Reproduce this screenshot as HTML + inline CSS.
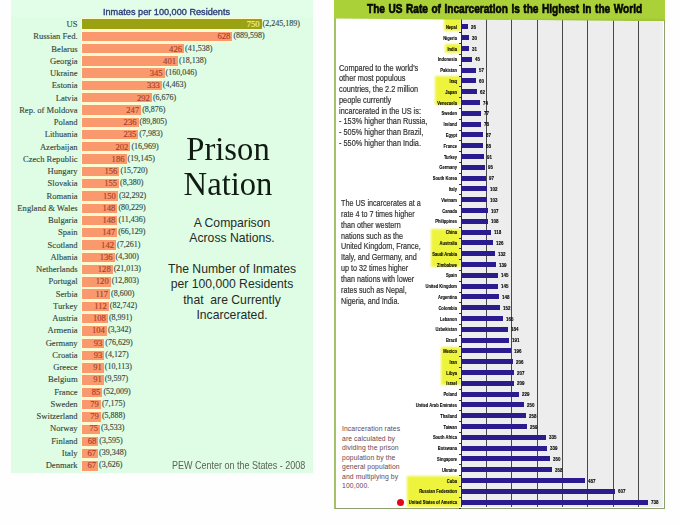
<!DOCTYPE html><html><head><meta charset="utf-8"><style>
*{margin:0;padding:0;box-sizing:border-box}
html,body{width:680px;height:526px;overflow:hidden;background:#fdfefd;position:relative}
.a{position:absolute;white-space:nowrap}
.lp{left:11px;top:0;width:302px;height:473px;background:#dffde5}
.lab{-webkit-text-stroke:0.12px #34463a;font-family:"Liberation Serif",serif;font-size:8.6px;color:#34463a;text-align:right;width:80px;line-height:12px}
.num{-webkit-text-stroke:0.15px currentColor;font-family:"Liberation Serif",serif;font-size:8.6px;color:#a8402c;line-height:12px;text-align:right}
.par{-webkit-text-stroke:0.15px currentColor;font-family:"Liberation Serif",serif;font-size:8px;color:#3c4a42;line-height:12px}
.rl{-webkit-text-stroke:0.12px #000;font-family:"Liberation Sans",sans-serif;font-weight:bold;font-size:6px;color:#000;text-align:right;line-height:8px;transform-origin:100% 50%;transform:scaleX(0.68)}
.rv{-webkit-text-stroke:0.12px #000;font-family:"Liberation Sans",sans-serif;font-weight:bold;font-size:5.6px;color:#000;line-height:8px;transform-origin:0 50%;transform:scaleX(0.8)}
.tx{-webkit-text-stroke:0.2px #333;font-family:"Liberation Sans",sans-serif;color:#333;line-height:10.8px;font-size:9px;transform-origin:0 0;transform:scaleX(0.815)}
</style></head><body>

<div class="a lp"></div>
<div class="a" style="left:11px;top:0;width:302px;height:17px;background:#e2fde8"></div>
<div class="a" style="left:103.2px;top:7.4px;font-family:'Liberation Sans',sans-serif;font-weight:normal;-webkit-text-stroke:0.35px #2c3a78;font-size:9.2px;color:#2c3a78;transform-origin:0 0;transform:scaleX(0.995)">Inmates per 100,000 Residents</div>
<div class="a" style="left:81.0px;top:17.70px;width:180.6px;height:12.6px;background:#fffad0"></div>
<div class="a" style="left:82.0px;top:19.30px;width:179.6px;height:9.4px;background:#9aa214"></div>
<div class="a lab" style="left:-2.4000000000000057px;top:18.00px">US</div>
<div class="a num" style="left:219.6px;top:18.00px;width:40px;color:#f6eeb0">750</div>
<div class="a par" style="left:262.6px;top:18.00px">(2,245,189)</div>
<div class="a" style="left:81.0px;top:29.98px;width:151.4px;height:12.6px;background:#fffad0"></div>
<div class="a" style="left:82.0px;top:31.58px;width:150.4px;height:9.4px;background:#fa996e"></div>
<div class="a lab" style="left:-2.4000000000000057px;top:30.25px">Russian Fed.</div>
<div class="a num" style="left:190.4px;top:30.25px;width:40px;color:#a8402c">628</div>
<div class="a par" style="left:233.4px;top:30.25px">(889,598)</div>
<div class="a" style="left:81.0px;top:42.26px;width:103.0px;height:12.6px;background:#fffad0"></div>
<div class="a" style="left:82.0px;top:43.86px;width:102.0px;height:9.4px;background:#fa996e"></div>
<div class="a lab" style="left:-2.4000000000000057px;top:42.50px">Belarus</div>
<div class="a num" style="left:142.0px;top:42.50px;width:40px;color:#a8402c">426</div>
<div class="a par" style="left:185.0px;top:42.50px">(41,538)</div>
<div class="a" style="left:81.0px;top:54.54px;width:97.0px;height:12.6px;background:#fffad0"></div>
<div class="a" style="left:82.0px;top:56.14px;width:96.0px;height:9.4px;background:#fa996e"></div>
<div class="a lab" style="left:-2.4000000000000057px;top:54.75px">Georgia</div>
<div class="a num" style="left:136.0px;top:54.75px;width:40px;color:#a8402c">401</div>
<div class="a par" style="left:179.0px;top:54.75px">(18,138)</div>
<div class="a" style="left:81.0px;top:66.82px;width:83.6px;height:12.6px;background:#fffad0"></div>
<div class="a" style="left:82.0px;top:68.42px;width:82.6px;height:9.4px;background:#fa996e"></div>
<div class="a lab" style="left:-2.4000000000000057px;top:67.00px">Ukraine</div>
<div class="a num" style="left:122.6px;top:67.00px;width:40px;color:#a8402c">345</div>
<div class="a par" style="left:165.6px;top:67.00px">(160,046)</div>
<div class="a" style="left:81.0px;top:79.10px;width:80.8px;height:12.6px;background:#fffad0"></div>
<div class="a" style="left:82.0px;top:80.70px;width:79.8px;height:9.4px;background:#fa996e"></div>
<div class="a lab" style="left:-2.4000000000000057px;top:79.25px">Estonia</div>
<div class="a num" style="left:119.8px;top:79.25px;width:40px;color:#a8402c">333</div>
<div class="a par" style="left:162.8px;top:79.25px">(4,463)</div>
<div class="a" style="left:81.0px;top:91.38px;width:70.9px;height:12.6px;background:#fffad0"></div>
<div class="a" style="left:82.0px;top:92.98px;width:69.9px;height:9.4px;background:#fa996e"></div>
<div class="a lab" style="left:-2.4000000000000057px;top:91.50px">Latvia</div>
<div class="a num" style="left:109.9px;top:91.50px;width:40px;color:#a8402c">292</div>
<div class="a par" style="left:152.9px;top:91.50px">(6,676)</div>
<div class="a" style="left:81.0px;top:103.66px;width:60.2px;height:12.6px;background:#fffad0"></div>
<div class="a" style="left:82.0px;top:105.26px;width:59.2px;height:9.4px;background:#fa996e"></div>
<div class="a lab" style="left:-2.4000000000000057px;top:103.75px">Rep. of Moldova</div>
<div class="a num" style="left:99.2px;top:103.75px;width:40px;color:#a8402c">247</div>
<div class="a par" style="left:142.2px;top:103.75px">(8,876)</div>
<div class="a" style="left:81.0px;top:115.94px;width:57.5px;height:12.6px;background:#fffad0"></div>
<div class="a" style="left:82.0px;top:117.54px;width:56.5px;height:9.4px;background:#fa996e"></div>
<div class="a lab" style="left:-2.4000000000000057px;top:116.00px">Poland</div>
<div class="a num" style="left:96.5px;top:116.00px;width:40px;color:#a8402c">236</div>
<div class="a par" style="left:139.5px;top:116.00px">(89,805)</div>
<div class="a" style="left:81.0px;top:128.22px;width:57.3px;height:12.6px;background:#fffad0"></div>
<div class="a" style="left:82.0px;top:129.82px;width:56.3px;height:9.4px;background:#fa996e"></div>
<div class="a lab" style="left:-2.4000000000000057px;top:128.25px">Lithuania</div>
<div class="a num" style="left:96.3px;top:128.25px;width:40px;color:#a8402c">235</div>
<div class="a par" style="left:139.3px;top:128.25px">(7,983)</div>
<div class="a" style="left:81.0px;top:140.50px;width:49.4px;height:12.6px;background:#fffad0"></div>
<div class="a" style="left:82.0px;top:142.10px;width:48.4px;height:9.4px;background:#fa996e"></div>
<div class="a lab" style="left:-2.4000000000000057px;top:140.50px">Azerbaijan</div>
<div class="a num" style="left:88.4px;top:140.50px;width:40px;color:#a8402c">202</div>
<div class="a par" style="left:131.4px;top:140.50px">(16,969)</div>
<div class="a" style="left:81.0px;top:152.78px;width:45.5px;height:12.6px;background:#fffad0"></div>
<div class="a" style="left:82.0px;top:154.38px;width:44.5px;height:9.4px;background:#fa996e"></div>
<div class="a lab" style="left:-2.4000000000000057px;top:152.75px">Czech Republic</div>
<div class="a num" style="left:84.5px;top:152.75px;width:40px;color:#a8402c">186</div>
<div class="a par" style="left:127.5px;top:152.75px">(19,145)</div>
<div class="a" style="left:81.0px;top:165.06px;width:38.4px;height:12.6px;background:#fffad0"></div>
<div class="a" style="left:82.0px;top:166.66px;width:37.4px;height:9.4px;background:#fa996e"></div>
<div class="a lab" style="left:-2.4000000000000057px;top:165.00px">Hungary</div>
<div class="a num" style="left:77.4px;top:165.00px;width:40px;color:#a8402c">156</div>
<div class="a par" style="left:120.4px;top:165.00px">(15,720)</div>
<div class="a" style="left:81.0px;top:177.34px;width:38.1px;height:12.6px;background:#fffad0"></div>
<div class="a" style="left:82.0px;top:178.94px;width:37.1px;height:9.4px;background:#fa996e"></div>
<div class="a lab" style="left:-2.4000000000000057px;top:177.25px">Slovakia</div>
<div class="a num" style="left:77.1px;top:177.25px;width:40px;color:#a8402c">155</div>
<div class="a par" style="left:120.1px;top:177.25px">(8,380)</div>
<div class="a" style="left:81.0px;top:189.62px;width:36.9px;height:12.6px;background:#fffad0"></div>
<div class="a" style="left:82.0px;top:191.22px;width:35.9px;height:9.4px;background:#fa996e"></div>
<div class="a lab" style="left:-2.4000000000000057px;top:189.50px">Romania</div>
<div class="a num" style="left:75.9px;top:189.50px;width:40px;color:#a8402c">150</div>
<div class="a par" style="left:118.9px;top:189.50px">(32,292)</div>
<div class="a" style="left:81.0px;top:201.90px;width:36.4px;height:12.6px;background:#fffad0"></div>
<div class="a" style="left:82.0px;top:203.50px;width:35.4px;height:9.4px;background:#fa996e"></div>
<div class="a lab" style="left:-2.4000000000000057px;top:201.75px">England &amp; Wales</div>
<div class="a num" style="left:75.4px;top:201.75px;width:40px;color:#a8402c">148</div>
<div class="a par" style="left:118.4px;top:201.75px">(80,229)</div>
<div class="a" style="left:81.0px;top:214.18px;width:36.4px;height:12.6px;background:#fffad0"></div>
<div class="a" style="left:82.0px;top:215.78px;width:35.4px;height:9.4px;background:#fa996e"></div>
<div class="a lab" style="left:-2.4000000000000057px;top:214.00px">Bulgaria</div>
<div class="a num" style="left:75.4px;top:214.00px;width:40px;color:#a8402c">148</div>
<div class="a par" style="left:118.4px;top:214.00px">(11,436)</div>
<div class="a" style="left:81.0px;top:226.46px;width:36.2px;height:12.6px;background:#fffad0"></div>
<div class="a" style="left:82.0px;top:228.06px;width:35.2px;height:9.4px;background:#fa996e"></div>
<div class="a lab" style="left:-2.4000000000000057px;top:226.25px">Spain</div>
<div class="a num" style="left:75.2px;top:226.25px;width:40px;color:#a8402c">147</div>
<div class="a par" style="left:118.2px;top:226.25px">(66,129)</div>
<div class="a" style="left:81.0px;top:238.74px;width:35.0px;height:12.6px;background:#fffad0"></div>
<div class="a" style="left:82.0px;top:240.34px;width:34.0px;height:9.4px;background:#fa996e"></div>
<div class="a lab" style="left:-2.4000000000000057px;top:238.50px">Scotland</div>
<div class="a num" style="left:74.0px;top:238.50px;width:40px;color:#a8402c">142</div>
<div class="a par" style="left:117.0px;top:238.50px">(7,261)</div>
<div class="a" style="left:81.0px;top:251.02px;width:33.6px;height:12.6px;background:#fffad0"></div>
<div class="a" style="left:82.0px;top:252.62px;width:32.6px;height:9.4px;background:#fa996e"></div>
<div class="a lab" style="left:-2.4000000000000057px;top:250.75px">Albania</div>
<div class="a num" style="left:72.6px;top:250.75px;width:40px;color:#a8402c">136</div>
<div class="a par" style="left:115.6px;top:250.75px">(4,300)</div>
<div class="a" style="left:81.0px;top:263.30px;width:31.7px;height:12.6px;background:#fffad0"></div>
<div class="a" style="left:82.0px;top:264.90px;width:30.7px;height:9.4px;background:#fa996e"></div>
<div class="a lab" style="left:-2.4000000000000057px;top:263.00px">Netherlands</div>
<div class="a num" style="left:70.7px;top:263.00px;width:40px;color:#a8402c">128</div>
<div class="a par" style="left:113.7px;top:263.00px">(21,013)</div>
<div class="a" style="left:81.0px;top:275.58px;width:29.7px;height:12.6px;background:#fffad0"></div>
<div class="a" style="left:82.0px;top:277.18px;width:28.7px;height:9.4px;background:#fa996e"></div>
<div class="a lab" style="left:-2.4000000000000057px;top:275.25px">Portugal</div>
<div class="a num" style="left:68.7px;top:275.25px;width:40px;color:#a8402c">120</div>
<div class="a par" style="left:111.7px;top:275.25px">(12,803)</div>
<div class="a" style="left:81.0px;top:287.86px;width:29.0px;height:12.6px;background:#fffad0"></div>
<div class="a" style="left:82.0px;top:289.46px;width:28.0px;height:9.4px;background:#fa996e"></div>
<div class="a lab" style="left:-2.4000000000000057px;top:287.50px">Serbia</div>
<div class="a num" style="left:68.0px;top:287.50px;width:40px;color:#a8402c">117</div>
<div class="a par" style="left:111.0px;top:287.50px">(8,600)</div>
<div class="a" style="left:81.0px;top:300.14px;width:27.8px;height:12.6px;background:#fffad0"></div>
<div class="a" style="left:82.0px;top:301.74px;width:26.8px;height:9.4px;background:#fa996e"></div>
<div class="a lab" style="left:-2.4000000000000057px;top:299.75px">Turkey</div>
<div class="a num" style="left:66.8px;top:299.75px;width:40px;color:#a8402c">112</div>
<div class="a par" style="left:109.8px;top:299.75px">(82,742)</div>
<div class="a" style="left:81.0px;top:312.42px;width:26.9px;height:12.6px;background:#fffad0"></div>
<div class="a" style="left:82.0px;top:314.02px;width:25.9px;height:9.4px;background:#fa996e"></div>
<div class="a lab" style="left:-2.4000000000000057px;top:312.00px">Austria</div>
<div class="a num" style="left:65.9px;top:312.00px;width:40px;color:#a8402c">108</div>
<div class="a par" style="left:108.9px;top:312.00px">(8,991)</div>
<div class="a" style="left:81.0px;top:324.70px;width:25.9px;height:12.6px;background:#fffad0"></div>
<div class="a" style="left:82.0px;top:326.30px;width:24.9px;height:9.4px;background:#fa996e"></div>
<div class="a lab" style="left:-2.4000000000000057px;top:324.25px">Armenia</div>
<div class="a num" style="left:64.9px;top:324.25px;width:40px;color:#a8402c">104</div>
<div class="a par" style="left:107.9px;top:324.25px">(3,342)</div>
<div class="a" style="left:81.0px;top:336.98px;width:23.3px;height:12.6px;background:#fffad0"></div>
<div class="a" style="left:82.0px;top:338.58px;width:22.3px;height:9.4px;background:#fa996e"></div>
<div class="a lab" style="left:-2.4000000000000057px;top:336.50px">Germany</div>
<div class="a num" style="left:62.3px;top:336.50px;width:40px;color:#a8402c">93</div>
<div class="a par" style="left:105.3px;top:336.50px">(76,629)</div>
<div class="a" style="left:81.0px;top:349.26px;width:23.3px;height:12.6px;background:#fffad0"></div>
<div class="a" style="left:82.0px;top:350.86px;width:22.3px;height:9.4px;background:#fa996e"></div>
<div class="a lab" style="left:-2.4000000000000057px;top:348.75px">Croatia</div>
<div class="a num" style="left:62.3px;top:348.75px;width:40px;color:#a8402c">93</div>
<div class="a par" style="left:105.3px;top:348.75px">(4,127)</div>
<div class="a" style="left:81.0px;top:361.54px;width:22.8px;height:12.6px;background:#fffad0"></div>
<div class="a" style="left:82.0px;top:363.14px;width:21.8px;height:9.4px;background:#fa996e"></div>
<div class="a lab" style="left:-2.4000000000000057px;top:361.00px">Greece</div>
<div class="a num" style="left:61.8px;top:361.00px;width:40px;color:#a8402c">91</div>
<div class="a par" style="left:104.8px;top:361.00px">(10,113)</div>
<div class="a" style="left:81.0px;top:373.82px;width:22.8px;height:12.6px;background:#fffad0"></div>
<div class="a" style="left:82.0px;top:375.42px;width:21.8px;height:9.4px;background:#fa996e"></div>
<div class="a lab" style="left:-2.4000000000000057px;top:373.25px">Belgium</div>
<div class="a num" style="left:61.8px;top:373.25px;width:40px;color:#a8402c">91</div>
<div class="a par" style="left:104.8px;top:373.25px">(9,597)</div>
<div class="a" style="left:81.0px;top:386.10px;width:21.4px;height:12.6px;background:#fffad0"></div>
<div class="a" style="left:82.0px;top:387.70px;width:20.4px;height:9.4px;background:#fa996e"></div>
<div class="a lab" style="left:-2.4000000000000057px;top:385.50px">France</div>
<div class="a num" style="left:60.4px;top:385.50px;width:40px;color:#a8402c">85</div>
<div class="a par" style="left:103.4px;top:385.50px">(52,009)</div>
<div class="a" style="left:81.0px;top:398.38px;width:19.9px;height:12.6px;background:#fffad0"></div>
<div class="a" style="left:82.0px;top:399.98px;width:18.9px;height:9.4px;background:#fa996e"></div>
<div class="a lab" style="left:-2.4000000000000057px;top:397.75px">Sweden</div>
<div class="a num" style="left:58.9px;top:397.75px;width:40px;color:#a8402c">79</div>
<div class="a par" style="left:101.9px;top:397.75px">(7,175)</div>
<div class="a" style="left:81.0px;top:410.66px;width:19.9px;height:12.6px;background:#fffad0"></div>
<div class="a" style="left:82.0px;top:412.26px;width:18.9px;height:9.4px;background:#fa996e"></div>
<div class="a lab" style="left:-2.4000000000000057px;top:410.00px">Switzerland</div>
<div class="a num" style="left:58.9px;top:410.00px;width:40px;color:#a8402c">79</div>
<div class="a par" style="left:101.9px;top:410.00px">(5,888)</div>
<div class="a" style="left:81.0px;top:422.94px;width:19.0px;height:12.6px;background:#fffad0"></div>
<div class="a" style="left:82.0px;top:424.54px;width:18.0px;height:9.4px;background:#fa996e"></div>
<div class="a lab" style="left:-2.4000000000000057px;top:422.25px">Norway</div>
<div class="a num" style="left:58.0px;top:422.25px;width:40px;color:#a8402c">75</div>
<div class="a par" style="left:101.0px;top:422.25px">(3,533)</div>
<div class="a" style="left:81.0px;top:435.22px;width:17.3px;height:12.6px;background:#fffad0"></div>
<div class="a" style="left:82.0px;top:436.82px;width:16.3px;height:9.4px;background:#fa996e"></div>
<div class="a lab" style="left:-2.4000000000000057px;top:434.50px">Finland</div>
<div class="a num" style="left:56.3px;top:434.50px;width:40px;color:#a8402c">68</div>
<div class="a par" style="left:99.3px;top:434.50px">(3,595)</div>
<div class="a" style="left:81.0px;top:447.50px;width:17.0px;height:12.6px;background:#fffad0"></div>
<div class="a" style="left:82.0px;top:449.10px;width:16.0px;height:9.4px;background:#fa996e"></div>
<div class="a lab" style="left:-2.4000000000000057px;top:446.75px">Italy</div>
<div class="a num" style="left:56.0px;top:446.75px;width:40px;color:#a8402c">67</div>
<div class="a par" style="left:99.0px;top:446.75px">(39,348)</div>
<div class="a" style="left:81.0px;top:459.78px;width:17.0px;height:12.6px;background:#fffad0"></div>
<div class="a" style="left:82.0px;top:461.38px;width:16.0px;height:9.4px;background:#fa996e"></div>
<div class="a lab" style="left:-2.4000000000000057px;top:459.00px">Denmark</div>
<div class="a num" style="left:56.0px;top:459.00px;width:40px;color:#a8402c">67</div>
<div class="a par" style="left:99.0px;top:459.00px">(3,626)</div>
<div class="a" style="left:168px;top:131.8px;width:120px;text-align:center;font-family:'Liberation Serif',serif;font-size:34px;line-height:34.8px;color:#121a14;transform:scaleX(0.96)">Prison<br>Nation</div>
<div class="a" style="left:152px;top:215.5px;width:160px;text-align:center;font-family:'Liberation Sans',sans-serif;font-size:12.2px;line-height:15.4px;color:#262a26">A Comparison<br>Across Nations.<br><br>The Number of Inmates<br>per 100,000 Residents<br>that&nbsp; are Currently<br>Incarcerated.</div>
<div class="a" style="left:172.3px;top:458.7px;font-family:'Liberation Sans',sans-serif;font-size:10.6px;color:#5a625a;transform-origin:0 0;transform:scaleX(0.848)">PEW Center on the States - 2008</div>
<div class="a" style="left:334px;top:0;width:331px;height:508.8px;background:#fefffe;border-left:2.5px solid #a6c268;border-bottom:1.8px solid #8fa070;border-right:1.8px solid #8fa070"></div>
<div class="a" style="left:444px;top:18.4px;width:17.0px;height:13.0px;background:#eef43c;filter:blur(0.8px)"></div>
<div class="a" style="left:445px;top:43.9px;width:16.0px;height:9.1px;background:#eef43c;filter:blur(0.8px)"></div>
<div class="a" style="left:435px;top:76.4px;width:26.0px;height:28.6px;background:#eef43c;filter:blur(0.8px)"></div>
<div class="a" style="left:431px;top:229.1px;width:30.0px;height:37.9px;background:#eef43c;filter:blur(0.8px)"></div>
<div class="a" style="left:441px;top:346.9px;width:20.0px;height:38.4px;background:#eef43c;filter:blur(0.8px)"></div>
<div class="a" style="left:406.5px;top:476.2px;width:54.5px;height:31.0px;background:#eef43c;filter:blur(0.8px)"></div>
<div class="a" style="left:461px;top:19px;width:202.20000000000005px;height:488.2px;background:linear-gradient(to right,#ededee calc(100% - 4px),#f2f3f4 100%)"></div>
<div class="a" style="left:485.8px;top:19px;width:1.1px;height:488.2px;background:#484848"></div>
<div class="a" style="left:511.1px;top:19px;width:1.1px;height:488.2px;background:#484848"></div>
<div class="a" style="left:536.5px;top:19px;width:1.1px;height:488.2px;background:#484848"></div>
<div class="a" style="left:561.8px;top:19px;width:1.1px;height:488.2px;background:#484848"></div>
<div class="a" style="left:587.2px;top:19px;width:1.1px;height:488.2px;background:#484848"></div>
<div class="a" style="left:612.6px;top:19px;width:1.1px;height:488.2px;background:#484848"></div>
<div class="a" style="left:637.9px;top:19px;width:1.1px;height:488.2px;background:#484848"></div>
<div class="a" style="left:460.5px;top:19px;width:1px;height:488.2px;background:#2a2a2a"></div>
<div class="a" style="left:461px;top:24.40px;width:6.6px;height:5.0px;background:#2a1b8e"></div>
<div class="a rl" style="left:357px;top:22.90px;width:100px">Nepal</div>
<div class="a rv" style="left:470.6px;top:22.90px">26</div>
<div class="a" style="left:459px;top:32.30px;width:2px;height:1px;background:#333"></div>
<div class="a" style="left:461px;top:35.20px;width:7.6px;height:5.0px;background:#2a1b8e"></div>
<div class="a rl" style="left:357px;top:33.70px;width:100px">Nigeria</div>
<div class="a rv" style="left:471.6px;top:33.70px">30</div>
<div class="a" style="left:459px;top:43.10px;width:2px;height:1px;background:#333"></div>
<div class="a" style="left:461px;top:46.00px;width:7.9px;height:5.0px;background:#2a1b8e"></div>
<div class="a rl" style="left:357px;top:44.50px;width:100px">India</div>
<div class="a rv" style="left:471.9px;top:44.50px">31</div>
<div class="a" style="left:459px;top:53.90px;width:2px;height:1px;background:#333"></div>
<div class="a" style="left:461px;top:56.80px;width:11.4px;height:5.0px;background:#2a1b8e"></div>
<div class="a rl" style="left:357px;top:55.30px;width:100px">Indonesia</div>
<div class="a rv" style="left:475.4px;top:55.30px">45</div>
<div class="a" style="left:459px;top:64.70px;width:2px;height:1px;background:#333"></div>
<div class="a" style="left:461px;top:67.60px;width:14.5px;height:5.0px;background:#2a1b8e"></div>
<div class="a rl" style="left:357px;top:66.10px;width:100px">Pakistan</div>
<div class="a rv" style="left:478.5px;top:66.10px">57</div>
<div class="a" style="left:459px;top:75.50px;width:2px;height:1px;background:#333"></div>
<div class="a" style="left:461px;top:78.40px;width:15.2px;height:5.0px;background:#2a1b8e"></div>
<div class="a rl" style="left:357px;top:76.90px;width:100px">Iraq</div>
<div class="a rv" style="left:479.2px;top:76.90px">60</div>
<div class="a" style="left:459px;top:86.30px;width:2px;height:1px;background:#333"></div>
<div class="a" style="left:461px;top:89.20px;width:15.7px;height:5.0px;background:#2a1b8e"></div>
<div class="a rl" style="left:357px;top:87.70px;width:100px">Japan</div>
<div class="a rv" style="left:479.7px;top:87.70px">62</div>
<div class="a" style="left:459px;top:97.10px;width:2px;height:1px;background:#333"></div>
<div class="a" style="left:461px;top:100.00px;width:18.8px;height:5.0px;background:#2a1b8e"></div>
<div class="a rl" style="left:357px;top:98.50px;width:100px">Venezuela</div>
<div class="a rv" style="left:482.8px;top:98.50px">74</div>
<div class="a" style="left:459px;top:107.90px;width:2px;height:1px;background:#333"></div>
<div class="a" style="left:461px;top:110.80px;width:19.5px;height:5.0px;background:#2a1b8e"></div>
<div class="a rl" style="left:357px;top:109.30px;width:100px">Sweden</div>
<div class="a rv" style="left:483.5px;top:109.30px">77</div>
<div class="a" style="left:459px;top:118.70px;width:2px;height:1px;background:#333"></div>
<div class="a" style="left:461px;top:121.60px;width:19.8px;height:5.0px;background:#2a1b8e"></div>
<div class="a rl" style="left:357px;top:120.10px;width:100px">Ireland</div>
<div class="a rv" style="left:483.8px;top:120.10px">78</div>
<div class="a" style="left:459px;top:129.50px;width:2px;height:1px;background:#333"></div>
<div class="a" style="left:461px;top:132.40px;width:22.1px;height:5.0px;background:#2a1b8e"></div>
<div class="a rl" style="left:357px;top:130.90px;width:100px">Egypt</div>
<div class="a rv" style="left:486.1px;top:130.90px">87</div>
<div class="a" style="left:459px;top:140.30px;width:2px;height:1px;background:#333"></div>
<div class="a" style="left:461px;top:143.20px;width:22.3px;height:5.0px;background:#2a1b8e"></div>
<div class="a rl" style="left:357px;top:141.70px;width:100px">France</div>
<div class="a rv" style="left:486.3px;top:141.70px">88</div>
<div class="a" style="left:459px;top:151.10px;width:2px;height:1px;background:#333"></div>
<div class="a" style="left:461px;top:154.00px;width:23.1px;height:5.0px;background:#2a1b8e"></div>
<div class="a rl" style="left:357px;top:152.50px;width:100px">Turkey</div>
<div class="a rv" style="left:487.1px;top:152.50px">91</div>
<div class="a" style="left:459px;top:161.90px;width:2px;height:1px;background:#333"></div>
<div class="a" style="left:461px;top:164.80px;width:24.1px;height:5.0px;background:#2a1b8e"></div>
<div class="a rl" style="left:357px;top:163.30px;width:100px">Germany</div>
<div class="a rv" style="left:488.1px;top:163.30px">95</div>
<div class="a" style="left:459px;top:172.70px;width:2px;height:1px;background:#333"></div>
<div class="a" style="left:461px;top:175.60px;width:24.6px;height:5.0px;background:#2a1b8e"></div>
<div class="a rl" style="left:357px;top:174.10px;width:100px">South Korea</div>
<div class="a rv" style="left:488.6px;top:174.10px">97</div>
<div class="a" style="left:459px;top:183.50px;width:2px;height:1px;background:#333"></div>
<div class="a" style="left:461px;top:186.40px;width:25.9px;height:5.0px;background:#2a1b8e"></div>
<div class="a rl" style="left:357px;top:184.90px;width:100px">Italy</div>
<div class="a rv" style="left:489.9px;top:184.90px">102</div>
<div class="a" style="left:459px;top:194.30px;width:2px;height:1px;background:#333"></div>
<div class="a" style="left:461px;top:197.20px;width:26.1px;height:5.0px;background:#2a1b8e"></div>
<div class="a rl" style="left:357px;top:195.70px;width:100px">Vietnam</div>
<div class="a rv" style="left:490.1px;top:195.70px">103</div>
<div class="a" style="left:459px;top:205.10px;width:2px;height:1px;background:#333"></div>
<div class="a" style="left:461px;top:208.00px;width:27.1px;height:5.0px;background:#2a1b8e"></div>
<div class="a rl" style="left:357px;top:206.50px;width:100px">Canada</div>
<div class="a rv" style="left:491.1px;top:206.50px">107</div>
<div class="a" style="left:459px;top:215.90px;width:2px;height:1px;background:#333"></div>
<div class="a" style="left:461px;top:218.80px;width:27.4px;height:5.0px;background:#2a1b8e"></div>
<div class="a rl" style="left:357px;top:217.30px;width:100px">Philippines</div>
<div class="a rv" style="left:491.4px;top:217.30px">108</div>
<div class="a" style="left:459px;top:226.70px;width:2px;height:1px;background:#333"></div>
<div class="a" style="left:461px;top:229.60px;width:29.9px;height:5.0px;background:#2a1b8e"></div>
<div class="a rl" style="left:357px;top:228.10px;width:100px">China</div>
<div class="a rv" style="left:493.9px;top:228.10px">118</div>
<div class="a" style="left:459px;top:237.50px;width:2px;height:1px;background:#333"></div>
<div class="a" style="left:461px;top:240.40px;width:32.0px;height:5.0px;background:#2a1b8e"></div>
<div class="a rl" style="left:357px;top:238.90px;width:100px">Australia</div>
<div class="a rv" style="left:496.0px;top:238.90px">126</div>
<div class="a" style="left:459px;top:248.30px;width:2px;height:1px;background:#333"></div>
<div class="a" style="left:461px;top:251.20px;width:33.5px;height:5.0px;background:#2a1b8e"></div>
<div class="a rl" style="left:357px;top:249.70px;width:100px">Saudi Arabia</div>
<div class="a rv" style="left:497.5px;top:249.70px">132</div>
<div class="a" style="left:459px;top:259.10px;width:2px;height:1px;background:#333"></div>
<div class="a" style="left:461px;top:262.00px;width:35.3px;height:5.0px;background:#2a1b8e"></div>
<div class="a rl" style="left:357px;top:260.50px;width:100px">Zimbabwe</div>
<div class="a rv" style="left:499.3px;top:260.50px">139</div>
<div class="a" style="left:459px;top:269.90px;width:2px;height:1px;background:#333"></div>
<div class="a" style="left:461px;top:272.80px;width:36.8px;height:5.0px;background:#2a1b8e"></div>
<div class="a rl" style="left:357px;top:271.30px;width:100px">Spain</div>
<div class="a rv" style="left:500.8px;top:271.30px">145</div>
<div class="a" style="left:459px;top:280.70px;width:2px;height:1px;background:#333"></div>
<div class="a" style="left:461px;top:283.60px;width:36.8px;height:5.0px;background:#2a1b8e"></div>
<div class="a rl" style="left:357px;top:282.10px;width:100px">United Kingdom</div>
<div class="a rv" style="left:500.8px;top:282.10px">145</div>
<div class="a" style="left:459px;top:291.50px;width:2px;height:1px;background:#333"></div>
<div class="a" style="left:461px;top:294.40px;width:37.5px;height:5.0px;background:#2a1b8e"></div>
<div class="a rl" style="left:357px;top:292.90px;width:100px">Argentina</div>
<div class="a rv" style="left:501.5px;top:292.90px">148</div>
<div class="a" style="left:459px;top:302.30px;width:2px;height:1px;background:#333"></div>
<div class="a" style="left:461px;top:305.20px;width:38.5px;height:5.0px;background:#2a1b8e"></div>
<div class="a rl" style="left:357px;top:303.70px;width:100px">Colombia</div>
<div class="a rv" style="left:502.5px;top:303.70px">152</div>
<div class="a" style="left:459px;top:313.10px;width:2px;height:1px;background:#333"></div>
<div class="a" style="left:461px;top:316.00px;width:41.8px;height:5.0px;background:#2a1b8e"></div>
<div class="a rl" style="left:357px;top:314.50px;width:100px">Lebanon</div>
<div class="a rv" style="left:505.8px;top:314.50px">165</div>
<div class="a" style="left:459px;top:323.90px;width:2px;height:1px;background:#333"></div>
<div class="a" style="left:461px;top:326.80px;width:46.7px;height:5.0px;background:#2a1b8e"></div>
<div class="a rl" style="left:357px;top:325.30px;width:100px">Uzbekistan</div>
<div class="a rv" style="left:510.7px;top:325.30px">184</div>
<div class="a" style="left:459px;top:334.70px;width:2px;height:1px;background:#333"></div>
<div class="a" style="left:461px;top:337.60px;width:48.4px;height:5.0px;background:#2a1b8e"></div>
<div class="a rl" style="left:357px;top:336.10px;width:100px">Brazil</div>
<div class="a rv" style="left:512.4px;top:336.10px">191</div>
<div class="a" style="left:459px;top:345.50px;width:2px;height:1px;background:#333"></div>
<div class="a" style="left:461px;top:348.40px;width:49.7px;height:5.0px;background:#2a1b8e"></div>
<div class="a rl" style="left:357px;top:346.90px;width:100px">Mexico</div>
<div class="a rv" style="left:513.7px;top:346.90px">196</div>
<div class="a" style="left:459px;top:356.30px;width:2px;height:1px;background:#333"></div>
<div class="a" style="left:461px;top:359.20px;width:52.2px;height:5.0px;background:#2a1b8e"></div>
<div class="a rl" style="left:357px;top:357.70px;width:100px">Iran</div>
<div class="a rv" style="left:516.2px;top:357.70px">206</div>
<div class="a" style="left:459px;top:367.10px;width:2px;height:1px;background:#333"></div>
<div class="a" style="left:461px;top:370.00px;width:52.5px;height:5.0px;background:#2a1b8e"></div>
<div class="a rl" style="left:357px;top:368.50px;width:100px">Libya</div>
<div class="a rv" style="left:516.5px;top:368.50px">207</div>
<div class="a" style="left:459px;top:377.90px;width:2px;height:1px;background:#333"></div>
<div class="a" style="left:461px;top:380.80px;width:53.0px;height:5.0px;background:#2a1b8e"></div>
<div class="a rl" style="left:357px;top:379.30px;width:100px">Israel</div>
<div class="a rv" style="left:517.0px;top:379.30px">209</div>
<div class="a" style="left:459px;top:388.70px;width:2px;height:1px;background:#333"></div>
<div class="a" style="left:461px;top:391.60px;width:58.1px;height:5.0px;background:#2a1b8e"></div>
<div class="a rl" style="left:357px;top:390.10px;width:100px">Poland</div>
<div class="a rv" style="left:522.1px;top:390.10px">229</div>
<div class="a" style="left:459px;top:399.50px;width:2px;height:1px;background:#333"></div>
<div class="a" style="left:461px;top:402.40px;width:63.4px;height:5.0px;background:#2a1b8e"></div>
<div class="a rl" style="left:357px;top:400.90px;width:100px">United Arab Emirates</div>
<div class="a rv" style="left:527.4px;top:400.90px">250</div>
<div class="a" style="left:459px;top:410.30px;width:2px;height:1px;background:#333"></div>
<div class="a" style="left:461px;top:413.20px;width:65.4px;height:5.0px;background:#2a1b8e"></div>
<div class="a rl" style="left:357px;top:411.70px;width:100px">Thailand</div>
<div class="a rv" style="left:529.4px;top:411.70px">258</div>
<div class="a" style="left:459px;top:421.10px;width:2px;height:1px;background:#333"></div>
<div class="a" style="left:461px;top:424.00px;width:65.7px;height:5.0px;background:#2a1b8e"></div>
<div class="a rl" style="left:357px;top:422.50px;width:100px">Taiwan</div>
<div class="a rv" style="left:529.7px;top:422.50px">259</div>
<div class="a" style="left:459px;top:431.90px;width:2px;height:1px;background:#333"></div>
<div class="a" style="left:461px;top:434.80px;width:85.0px;height:5.0px;background:#2a1b8e"></div>
<div class="a rl" style="left:357px;top:433.30px;width:100px">South Africa</div>
<div class="a rv" style="left:549.0px;top:433.30px">335</div>
<div class="a" style="left:459px;top:442.70px;width:2px;height:1px;background:#333"></div>
<div class="a" style="left:461px;top:445.60px;width:86.0px;height:5.0px;background:#2a1b8e"></div>
<div class="a rl" style="left:357px;top:444.10px;width:100px">Botswana</div>
<div class="a rv" style="left:550.0px;top:444.10px">339</div>
<div class="a" style="left:459px;top:453.50px;width:2px;height:1px;background:#333"></div>
<div class="a" style="left:461px;top:456.40px;width:88.8px;height:5.0px;background:#2a1b8e"></div>
<div class="a rl" style="left:357px;top:454.90px;width:100px">Singapore</div>
<div class="a rv" style="left:552.8px;top:454.90px">350</div>
<div class="a" style="left:459px;top:464.30px;width:2px;height:1px;background:#333"></div>
<div class="a" style="left:461px;top:467.20px;width:90.8px;height:5.0px;background:#2a1b8e"></div>
<div class="a rl" style="left:357px;top:465.70px;width:100px">Ukraine</div>
<div class="a rv" style="left:554.8px;top:465.70px">358</div>
<div class="a" style="left:459px;top:475.10px;width:2px;height:1px;background:#333"></div>
<div class="a" style="left:461px;top:478.00px;width:123.5px;height:5.0px;background:#2a1b8e"></div>
<div class="a rl" style="left:357px;top:476.50px;width:100px">Cuba</div>
<div class="a rv" style="left:587.5px;top:476.50px">487</div>
<div class="a" style="left:459px;top:485.90px;width:2px;height:1px;background:#333"></div>
<div class="a" style="left:461px;top:488.80px;width:153.9px;height:5.0px;background:#2a1b8e"></div>
<div class="a rl" style="left:357px;top:487.30px;width:100px">Russian Federation</div>
<div class="a rv" style="left:617.9px;top:487.30px">607</div>
<div class="a" style="left:459px;top:496.70px;width:2px;height:1px;background:#333"></div>
<div class="a" style="left:461px;top:499.60px;width:187.2px;height:5.0px;background:#2a1b8e"></div>
<div class="a rl" style="left:357px;top:498.10px;width:100px">United States of America</div>
<div class="a rv" style="left:651.2px;top:498.10px">738</div>
<div class="a" style="left:459px;top:507.50px;width:2px;height:1px;background:#333"></div>
<div class="a" style="left:334px;top:0;width:331px;height:21.2px;background:linear-gradient(to bottom,#aad238 0,#aad238 calc(100% - 3px),#9cbf3a 100%);clip-path:polygon(0 0,100% 0,100% 100%,0 18.4px)"></div>
<div class="a" style="left:367px;top:0.6px;font-family:'Liberation Sans',sans-serif;font-weight:bold;font-size:13.6px;color:#0a0a05;transform-origin:0 0;transform:scaleX(0.742);letter-spacing:0px;-webkit-text-stroke:0.7px #0a0a05;word-spacing:1.0px">The US Rate of Incarceration is the Highest in the World</div>
<div class="a" style="left:397.2px;top:498.79999999999995px;width:7.2px;height:7.2px;border-radius:50%;background:#e00818"></div>
<div class="a tx" style="left:338.5px;top:62.5px">Compared to the world's<br>other most populous<br>countries, the 2.2 million<br>people currently<br>incarcerated in the US is:<br>- 153% higher than Russia,<br>- 505% higher than Brazil,<br>- 550% higher than India.</div>
<div class="a tx" style="left:340.5px;top:197.8px;transform:scaleX(0.8);line-height:10.9px">The US incarcerates at a<br>rate 4 to 7 times higher<br>than other western<br>nations such as the<br>United Kingdom, France,<br>Italy, and Germany, and<br>up to 32 times higher<br>than nations with lower<br>rates such as Nepal,<br>Nigeria, and India.</div>
<div class="a" style="left:342px;top:424px;font-family:'Liberation Sans',sans-serif;font-size:6.8px;line-height:9.5px;color:#664852;letter-spacing:0.1px">Incarceration rates<br>are calculated by<br>dividing the prison<br>population by the<br>general population<br>and multiplying by<br>100,000.</div>
</body></html>
